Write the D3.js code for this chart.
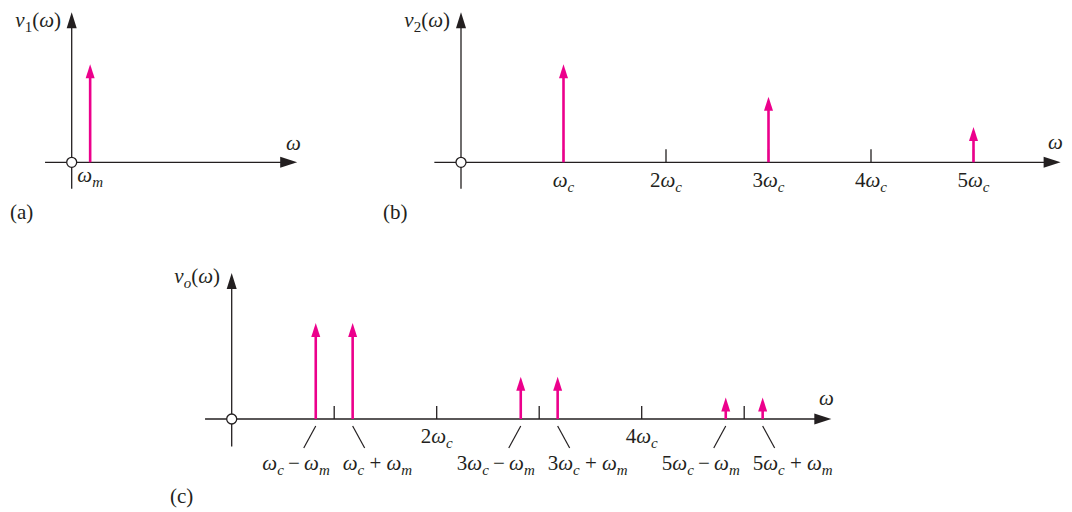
<!DOCTYPE html>
<html>
<head>
<meta charset="utf-8">
<script src="https://cdn.jsdelivr.net/npm/d3@7"></script>
<style>
  html, body { margin: 0; padding: 0; background: #fff; }
  svg { display: block; }
</style>
</head>
<body>
<svg id="chart" width="1072" height="512"></svg>
<script>
// ---------------- DATA ----------------
// frequencies are in units of omega_c, amplitudes are relative
const v1Freqs = [0.18];
const v1Amps = [1.0];

const v2Freqs = [1, 3, 5];
const v2Amps = [1.0, 0.67, 0.36];
const v2Ticks = [1, 2, 3, 4, 5];
const v2TickLabels = ["ωc", "2ωc", "3ωc", "4ωc", "5ωc"];

const voFreqs = [0.82, 1.18, 2.82, 3.18, 4.82, 5.18];
const voAmps = [0.98, 0.98, 0.43, 0.43, 0.22, 0.22];
const voSide = ["-", "+", "-", "+", "-", "+"];
const voLabels = ["ωc\u2009−\u2009ωm", "ωc + ωm", "3ωc\u2009−\u2009ωm", "3ωc + ωm", "5ωc\u2009−\u2009ωm", "5ωc + ωm"];
const voTicks = [1, 2, 3, 4, 5];
const voTickLabels = ["", "2ωc", "", "4ωc", ""];

const panelLetters = ["(a)", "(b)", "(c)"];
const yAxisTitles = ["v1(ω)", "v2(ω)", "vo(ω)"];

// ---------------- STYLE ----------------
const AX = "#231f20";
const PINK = "#ec008c";
const FONT = "'Liberation Serif', 'Times New Roman', serif";
const FS = 21, SUBFS = 15;
const UNIT = 102.5;   // px per omega_c
const AMP = 98;       // px per unit amplitude

const svg = d3.select("#chart");

function mathText(g, str, x, y, anchor) {
  const t = g.append("text").attr("x", x).attr("y", y)
    .attr("font-family", FONT).attr("fill", AX)
    .attr("text-anchor", anchor || "middle").attr("font-size", FS);
  const chars = Array.from(str);
  let inSub = false;
  chars.forEach((ch, i) => {
    const prev = chars[i - 1];
    const isSub = (/[cmo12]/.test(ch) && (prev === "ω" || prev === "v"));
    const ts = t.append("tspan").text(ch === " " ? "\u00a0" : ch);
    if (ch === "ω" || ch === "v" || (isSub && /[cmo]/.test(ch))) ts.attr("font-style", "italic");
    if (isSub) {
      ts.attr("font-size", SUBFS).attr("dy", 5);
      inSub = true;
    } else if (inSub) {
      ts.attr("dy", -5);
      inSub = false;
    }
  });
  return t;
}

function panel(cfg) {
  const g = svg.append("g");
  const x = d3.scaleLinear().domain([0, 1]).range([cfg.ox, cfg.ox + UNIT]);
  const y = d3.scaleLinear().domain([0, 1]).range([cfg.oy, cfg.oy - AMP]);

  const xl = x(cfg.xMin), xr = x(cfg.xMax);
  g.append("line").attr("x1", xl).attr("x2", xr - 12).attr("y1", y(0)).attr("y2", y(0))
    .attr("stroke", AX).attr("stroke-width", 1.3);
  g.append("path").attr("d", `M${xr},${y(0)} L${xr - 17},${y(0) - 5.5} L${xr - 17},${y(0) + 5.5} Z`)
    .attr("fill", AX);
  const yt = y(cfg.yMax), yb = y(cfg.yMin);
  g.append("line").attr("x1", x(0)).attr("x2", x(0)).attr("y1", yt + 12).attr("y2", yb)
    .attr("stroke", AX).attr("stroke-width", 1.3);
  g.append("path").attr("d", `M${x(0)},${yt} L${x(0) - 5},${yt + 16} L${x(0) + 5},${yt + 16} Z`)
    .attr("fill", AX);

  (cfg.ticks || []).forEach((tk, i) => {
    g.append("line").attr("x1", x(tk)).attr("x2", x(tk)).attr("y1", y(0)).attr("y2", y(0) - 13)
      .attr("stroke", AX).attr("stroke-width", 1.3);
    if (cfg.tickLabels[i]) mathText(g, cfg.tickLabels[i], x(tk), cfg.tickLabelY, "middle");
  });

  cfg.freqs.forEach((f, i) => {
    const xs = x(f), ytip = y(cfg.amps[i]);
    g.append("line").attr("x1", xs).attr("x2", xs).attr("y1", y(0)).attr("y2", ytip + 12)
      .attr("stroke", PINK).attr("stroke-width", 2.6);
    g.append("path").attr("d", `M${xs},${ytip} L${xs - 4.5},${ytip + 14} L${xs + 4.5},${ytip + 14} Z`)
      .attr("fill", PINK);
  });

  g.append("circle").attr("cx", x(0)).attr("cy", y(0)).attr("r", 5)
    .attr("fill", "#fff").attr("stroke", AX).attr("stroke-width", 1.3);

  mathText(g, cfg.yTitle, cfg.yTitleX, cfg.yTitleY, "end");
  mathText(g, "ω", cfg.wX, cfg.wY, "start");
  g.append("text").attr("x", cfg.letterX).attr("y", cfg.letterY)
    .attr("font-family", FONT).attr("fill", AX).attr("font-size", FS).text(cfg.letter);
  return { g, x, y };
}

// (a)
const pa = panel({
  ox: 71.7, oy: 162.3, xMin: -0.26, xMax: 2.2, yMax: 1.53, yMin: -0.27,
  freqs: v1Freqs, amps: v1Amps,
  yTitle: yAxisTitles[0], yTitleX: 61, yTitleY: 27,
  wX: 286, wY: 150, letter: panelLetters[0], letterX: 10, letterY: 219
});
mathText(pa.g, "ωm", pa.x(v1Freqs[0]), 182, "middle");

// (b)
panel({
  ox: 461, oy: 162.3, xMin: -0.26, xMax: 5.85, yMax: 1.53, yMin: -0.27,
  freqs: v2Freqs, amps: v2Amps, ticks: v2Ticks, tickLabels: v2TickLabels, tickLabelY: 186.5,
  yTitle: yAxisTitles[1], yTitleX: 450, yTitleY: 27,
  wX: 1048, wY: 149, letter: panelLetters[1], letterX: 383, letterY: 219
});

// (c)
const pc = panel({
  ox: 231.7, oy: 419, xMin: -0.26, xMax: 5.85, yMax: 1.49, yMin: -0.28,
  freqs: voFreqs, amps: voAmps, ticks: voTicks, tickLabels: voTickLabels, tickLabelY: 443,
  yTitle: yAxisTitles[2], yTitleX: 220, yTitleY: 283,
  wX: 819, wY: 405, letter: panelLetters[2], letterX: 170, letterY: 503
});
voFreqs.forEach((f, i) => {
  const xs = pc.x(f), y0 = pc.y(0);
  const dir = voSide[i] === "-" ? -1 : 1;
  pc.g.append("line").attr("x1", xs).attr("y1", y0 + 7).attr("x2", xs + dir * 12).attr("y2", y0 + 29)
    .attr("stroke", AX).attr("stroke-width", 1.2);
  if (dir < 0) mathText(pc.g, voLabels[i], xs + 14, 470, "end");
  else mathText(pc.g, voLabels[i], xs - 10, 470, "start");
});
</script>
</body>
</html>
